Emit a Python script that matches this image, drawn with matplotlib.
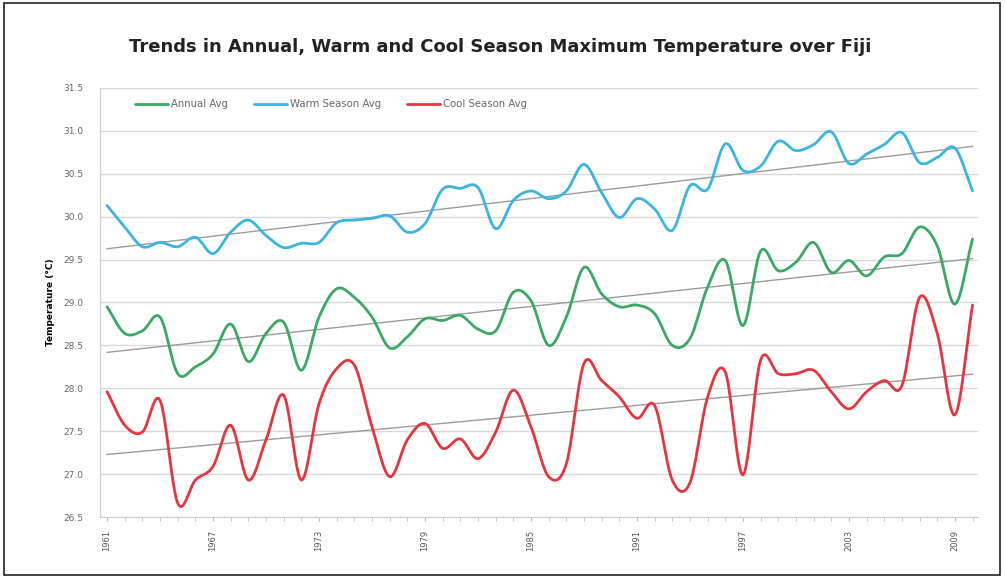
import numpy as np
import matplotlib
matplotlib.use("Agg")
import matplotlib.pyplot as plt
from matplotlib.patches import Rectangle

years = list(range(1961, 2011))
annual_avg = [28.95, 28.64, 28.67, 28.83, 28.17, 28.25, 28.40, 28.75, 28.31, 28.64,
              28.77, 28.21, 28.83, 29.16, 29.06, 28.83, 28.47, 28.60, 28.81, 28.79,
              28.85, 28.69, 28.67, 29.12, 29.02, 28.50, 28.83, 29.41, 29.10, 28.95,
              28.97, 28.87, 28.50, 28.58, 29.18, 29.49, 28.73, 29.60, 29.37, 29.47,
              29.70, 29.35, 29.49, 29.31, 29.53, 29.57, 29.88, 29.66, 28.98, 29.74]
warm_avg = [30.13, 29.88, 29.65, 29.70, 29.65, 29.76, 29.57, 29.82, 29.96, 29.78,
            29.64, 29.69, 29.70, 29.93, 29.96, 29.98, 30.01, 29.82, 29.92, 30.32,
            30.33, 30.34, 29.86, 30.19, 30.30, 30.21, 30.30, 30.61, 30.28, 29.99,
            30.21, 30.09, 29.84, 30.36, 30.32, 30.85, 30.54, 30.59, 30.88, 30.77,
            30.84, 30.99, 30.62, 30.73, 30.84, 30.98, 30.63, 30.69, 30.80, 30.30]
cool_avg = [27.96, 27.57, 27.49, 27.86, 26.66, 26.93, 27.09, 27.57, 26.93, 27.40,
            27.92, 26.93, 27.82, 28.23, 28.27, 27.55, 26.97, 27.40, 27.59, 27.30,
            27.41, 27.18, 27.49, 27.98, 27.55, 26.97, 27.12, 28.29, 28.09, 27.90,
            27.65, 27.80, 26.93, 26.90, 27.90, 28.19, 26.99, 28.33, 28.17, 28.17,
            28.21, 27.96, 27.76, 27.96, 28.09, 28.03, 29.06, 28.64, 27.69, 28.97]
series_names = ["Annual Avg", "Warm Season Avg", "Cool Season Avg"]
series_colors = ["#3aa964", "#3ab5e2", "#e8343f"]
yticks = [26.5, 27.0, 27.5, 28.0, 28.5, 29.0, 29.5, 30.0, 30.5, 31.0, 31.5]
xlabel_years = [1961, 1967, 1973, 1979, 1985, 1991, 1997, 2003, 2009]
title = "Trends in Annual, Warm and Cool Season Maximum Temperature over Fiji"
ylabel = "Temperature (\u00b0C)"


def smooth(x, y, n=12):
    # Catmull-Rom style smoothing (like a spreadsheet "smoothed line")
    x = np.asarray(x, float)
    y = np.asarray(y, float)
    px = np.concatenate([[2 * x[0] - x[1]], x, [2 * x[-1] - x[-2]]])
    py = np.concatenate([[2 * y[0] - y[1]], y, [2 * y[-1] - y[-2]]])
    xs, ys = [], []
    t = np.linspace(0, 1, n, endpoint=False)
    for i in range(1, len(px) - 2):
        p0, p1, p2, p3 = py[i - 1], py[i], py[i + 1], py[i + 2]
        q0, q1, q2, q3 = px[i - 1], px[i], px[i + 1], px[i + 2]
        cy = 0.5 * ((2 * p1) + (-p0 + p2) * t + (2 * p0 - 5 * p1 + 4 * p2 - p3) * t ** 2
                    + (-p0 + 3 * p1 - 3 * p2 + p3) * t ** 3)
        cx = 0.5 * ((2 * q1) + (-q0 + q2) * t + (2 * q0 - 5 * q1 + 4 * q2 - q3) * t ** 2
                    + (-q0 + 3 * q1 - 3 * q2 + q3) * t ** 3)
        xs.append(cx)
        ys.append(cy)
    xs.append([x[-1]])
    ys.append([y[-1]])
    return np.concatenate(xs), np.concatenate(ys)


fig = plt.figure(figsize=(10.05, 5.78), dpi=100)
fig.patches.append(Rectangle((0.004, 0.006), 0.991, 0.988, transform=fig.transFigure,
                             fill=False, edgecolor="#222222", linewidth=1.2))
ax = fig.add_axes([0.0995, 0.1055, 0.8735, 0.7423])

yrs = np.array(years, float)
for vals, name, col in zip([annual_avg, warm_avg, cool_avg], series_names, series_colors):
    sx, sy = smooth(yrs, vals)
    ax.plot(sx, sy, color=col, linewidth=2.0, label=name, solid_capstyle="round", zorder=3)
    coef = np.polyfit(yrs, np.array(vals), 1)
    ax.plot([yrs[0], yrs[-1]], np.polyval(coef, [yrs[0], yrs[-1]]),
            color="#9c9c9c", linewidth=1.0, zorder=2)

ax.set_ylim(26.5, 31.5)
ax.set_xlim(1960.6, 2010.3)
ax.set_yticks(yticks)
ax.set_yticklabels([f"{v:.1f}" for v in yticks], fontsize=6.5, color="#666666")
ax.yaxis.grid(True, color="#d9d9d9", linewidth=1.0)
ax.set_axisbelow(True)
ax.set_xticks(years, minor=True)
ax.set_xticks(xlabel_years)
ax.set_xticklabels([str(y) for y in xlabel_years], rotation=90, fontsize=6, color="#555555")
ax.tick_params(axis="x", which="both", length=3, color="#bbbbbb", pad=6)
ax.tick_params(axis="y", length=0, pad=12)
for s in ["top", "right"]:
    ax.spines[s].set_visible(False)
ax.spines["left"].set_color("#cfcfcf")
ax.spines["bottom"].set_color("#cfcfcf")
ax.set_ylabel(ylabel, fontsize=6.5, fontweight="bold", labelpad=6)

leg = ax.legend(loc="upper left", bbox_to_anchor=(0.03, 0.995), ncol=3, frameon=False,
                fontsize=7.3, handlelength=3.2, columnspacing=2.6, handletextpad=0.3)
for t in leg.get_texts():
    t.set_color("#666666")

fig.text(0.498, 0.918, title, ha="center", va="center", fontsize=13, fontweight="bold",
         color="#222222")

fig.savefig("out.png", dpi=100)
